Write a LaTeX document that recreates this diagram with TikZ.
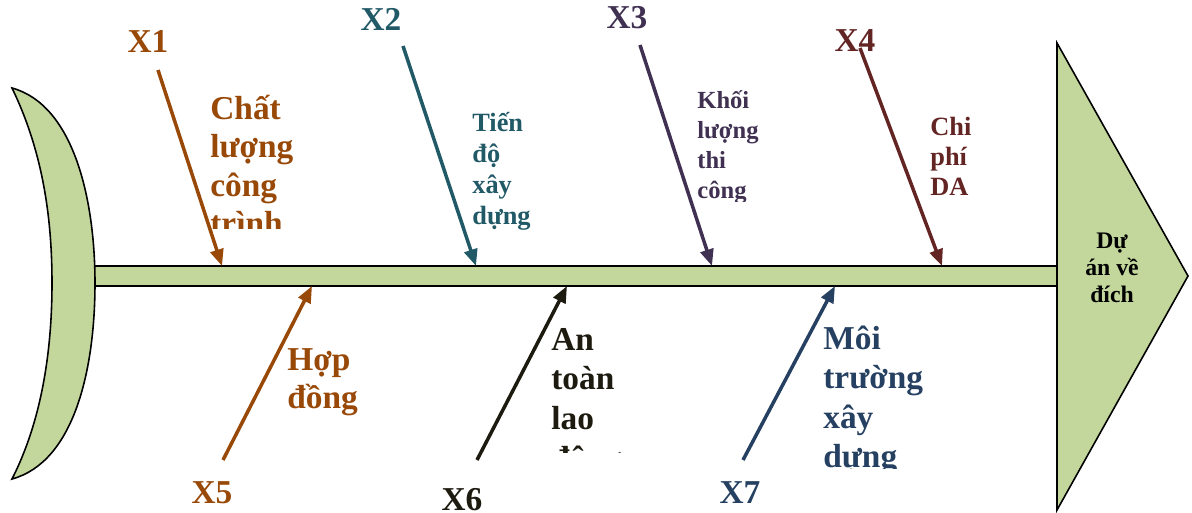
\documentclass[tikz,border=0pt]{standalone}
\usepackage{fontspec}
\setmainfont{Liberation Serif}
\usetikzlibrary{arrows.meta}
\definecolor{fishgreen}{RGB}{195,214,155}
\definecolor{rustc}{RGB}{152,72,7}
\definecolor{tealc}{RGB}{33,89,103}
\definecolor{plumc}{RGB}{64,49,82}
\definecolor{maroonc}{RGB}{99,37,35}
\definecolor{inkc}{RGB}{29,27,16}
\definecolor{navyc}{RGB}{37,64,97}
\tikzset{
  fish/.style={draw=black, line width=0.9pt, fill=fishgreen},
  bone/.style={-{Triangle[length=9.5pt,width=7.5pt]}, line width=2pt},
  tag/.style={anchor=base, inner sep=0pt, font=\fontsize{19}{22}\selectfont\bfseries},
  cause/.style={anchor=base west, inner sep=0pt, align=left},
}
\begin{document}
\begin{tikzpicture}[x=0.02cm, y=-0.02cm]
  \useasboundingbox (0,0) rectangle (1192,513);

  % body of the fish
  \draw[fish] (80,266) rectangle (1057,286);
  \draw[fish] (12,88) .. controls (74,105) and (95,200) .. (95,283)
    .. controls (95,370) and (74,462) .. (12,479)
    .. controls (42,420) and (52,350) .. (52,283)
    .. controls (52,215) and (42,150) .. (12,88) -- cycle;
  \draw[fish] (1057,43) -- (1188,276) -- (1057,510) -- cycle;
  % base of a multi-line node = its last line
  \node[align=center, inner sep=0pt, anchor=base,
        font=\fontsize{13.5}{15.3}\selectfont\bfseries] (head) at (1112,302) {Dự\\án về\\đích};

  % points on the spine
  \coordinate (e1) at (222,266);
  \coordinate (e2) at (476,266);
  \coordinate (e3) at (712,266);
  \coordinate (e4) at (942,266);
  \coordinate (e5) at (312,286);
  \coordinate (e6) at (567,286);
  \coordinate (e7) at (835,286);

  % upper bones
  \coordinate (s1) at (158,70);
  \coordinate (s2) at (403,46);
  \coordinate (s3) at (640,45);
  \coordinate (s4) at (860,48);
  \draw[bone, rustc] (s1) -- (e1);
  \draw[bone, tealc] (s2) -- (e2);
  \draw[bone, plumc] (s3) -- (e3);
  \draw[bone, maroonc] (s4) -- (e4);

  % lower bones
  \coordinate (s5) at (223,460);
  \coordinate (s6) at (477,460);
  \coordinate (s7) at (743,460);
  \draw[bone, rustc] (s5) -- (e5);
  \draw[bone, inkc] (s6) -- (e6);
  \draw[bone, navyc] (s7) -- (e7);

  % X labels
  \node[tag, text=rustc] (x1) at (148,53) {X1};
  \node[tag, text=tealc] (x2) at (381,31) {X2};
  \node[tag, text=plumc] (x3) at (627,29) {X3};
  \node[tag, text=maroonc] (x4) at (855,52) {X4};
  \node[tag, text=rustc] (x5) at (212,503) {X5};
  \node[tag, text=inkc] (x6) at (462,510) {X6};
  \node[tag, text=navyc] (x7) at (740,503) {X7};

  % cause texts
  \begin{scope}
    \clip (200,60) rectangle (320,228);
    \node[cause, text=rustc, font=\fontsize{19}{22}\selectfont\bfseries] (c1) at (210,235)
      {Chất\\lượng\\công\\trình};
  \end{scope}
  \node[cause, text=tealc, font=\fontsize{15}{17.6}\selectfont\bfseries] (c2) at (472,224)
    {Tiến\\độ\\xây\\dựng};
  \begin{scope}
    \clip (690,60) rectangle (800,201);
    \node[cause, text=plumc, font=\fontsize{14}{17}\selectfont\bfseries] (c3) at (697,198)
      {Khối\\lượng\\thi\\công};
  \end{scope}
  \node[cause, text=maroonc, font=\fontsize{15}{17}\selectfont\bfseries] (c4) at (930,195)
    {Chi\\phí\\DA};
  \node[cause, text=rustc, font=\fontsize{19}{21.5}\selectfont\bfseries] (c5) at (287,408)
    {Hợp\\đồng};
  \begin{scope}
    \clip (540,310) rectangle (660,452);
    \node[cause, text=inkc, font=\fontsize{19}{22.5}\selectfont\bfseries] (c6) at (551,469)
      {An\\toàn\\lao\\động};
  \end{scope}
  \begin{scope}
    \clip (815,310) rectangle (960,468);
    \node[cause, text=navyc, font=\fontsize{19}{22.2}\selectfont\bfseries] (c7) at (823,467)
      {Môi\\trường\\xây\\dựng};
  \end{scope}
\end{tikzpicture}
\end{document}
